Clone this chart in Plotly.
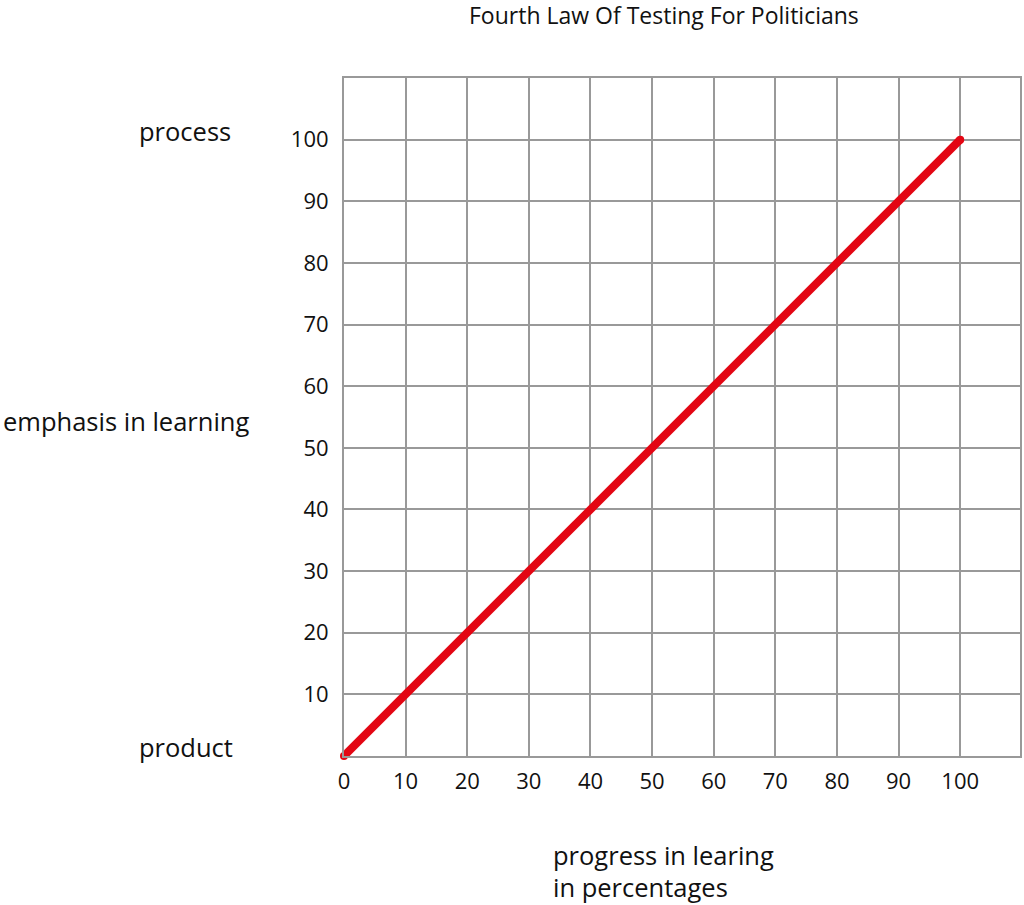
import plotly.graph_objects as go

# Data
progress = [0, 100]
emphasis = [0, 100]
x_ticks = [0, 10, 20, 30, 40, 50, 60, 70, 80, 90, 100]
y_ticks = [10, 20, 30, 40, 50, 60, 70, 80, 90, 100]

W, H = 1024, 905
L, R, T, B = 344, 2, 78, 149
PW = W - L - R
PH = H - T - B

def px(x):
    return (x - L) / PW

def py(y):
    return (H - B - y) / PH

FONT = "Open Sans"
RED = "#e30613"
GRID = "#999999"
TXT = "#111111"

fig = go.Figure()
fig.add_trace(go.Scatter(
    x=progress, y=emphasis, mode="lines+markers",
    line=dict(color=RED, width=8),
    marker=dict(color=RED, size=8),
    cliponaxis=False, hoverinfo="skip", showlegend=False,
))

fig.update_layout(
    width=W, height=H,
    margin=dict(l=L, r=R, t=T, b=B, pad=0),
    paper_bgcolor="white", plot_bgcolor="white",
    font=dict(family=FONT, color=TXT, size=22),
    xaxis=dict(
        range=[0, 109.7], tickvals=x_ticks, ticktext=[str(v) for v in x_ticks],
        showgrid=True, gridcolor=GRID, gridwidth=2,
        showline=True, linecolor=GRID, linewidth=2, mirror=True,
        zeroline=False, ticks="", ticklabelstandoff=5,
        tickfont=dict(size=22, family=FONT, color=TXT),
    ),
    yaxis=dict(
        range=[0, 110], tickvals=y_ticks, ticktext=[str(v) for v in y_ticks],
        showgrid=True, gridcolor=GRID, gridwidth=2,
        showline=True, linecolor=GRID, linewidth=2, mirror=True,
        zeroline=False, ticks="", ticklabelstandoff=9,
        tickfont=dict(size=22, family=FONT, color=TXT),
    ),
)

annots = [
    dict(text="Fourth Law Of Testing For Politicians", x=px(665), y=py(15), size=23, xanchor="center"),
    dict(text="process", x=px(136), y=py(131), size=25.5, xanchor="left"),
    dict(text="emphasis in learning", x=px(0), y=py(421), size=25.5, xanchor="left"),
    dict(text="product", x=px(136), y=py(747), size=25.5, xanchor="left"),
    dict(text="progress in learing", x=px(552), y=py(855), size=25.5, xanchor="left"),
    dict(text="in percentages", x=px(552), y=py(887), size=25.5, xanchor="left"),
]
for a in annots:
    fig.add_annotation(
        text=a["text"], x=a["x"], y=a["y"], xref="paper", yref="paper",
        xanchor=a["xanchor"], yanchor="middle", showarrow=False,
        font=dict(family=FONT, size=a["size"], color=TXT),
    )

fig.write_html(
    "out.html",
    config={"displayModeBar": False},
    post_script="document.body.style.margin='0';document.body.style.padding='0';",
)
